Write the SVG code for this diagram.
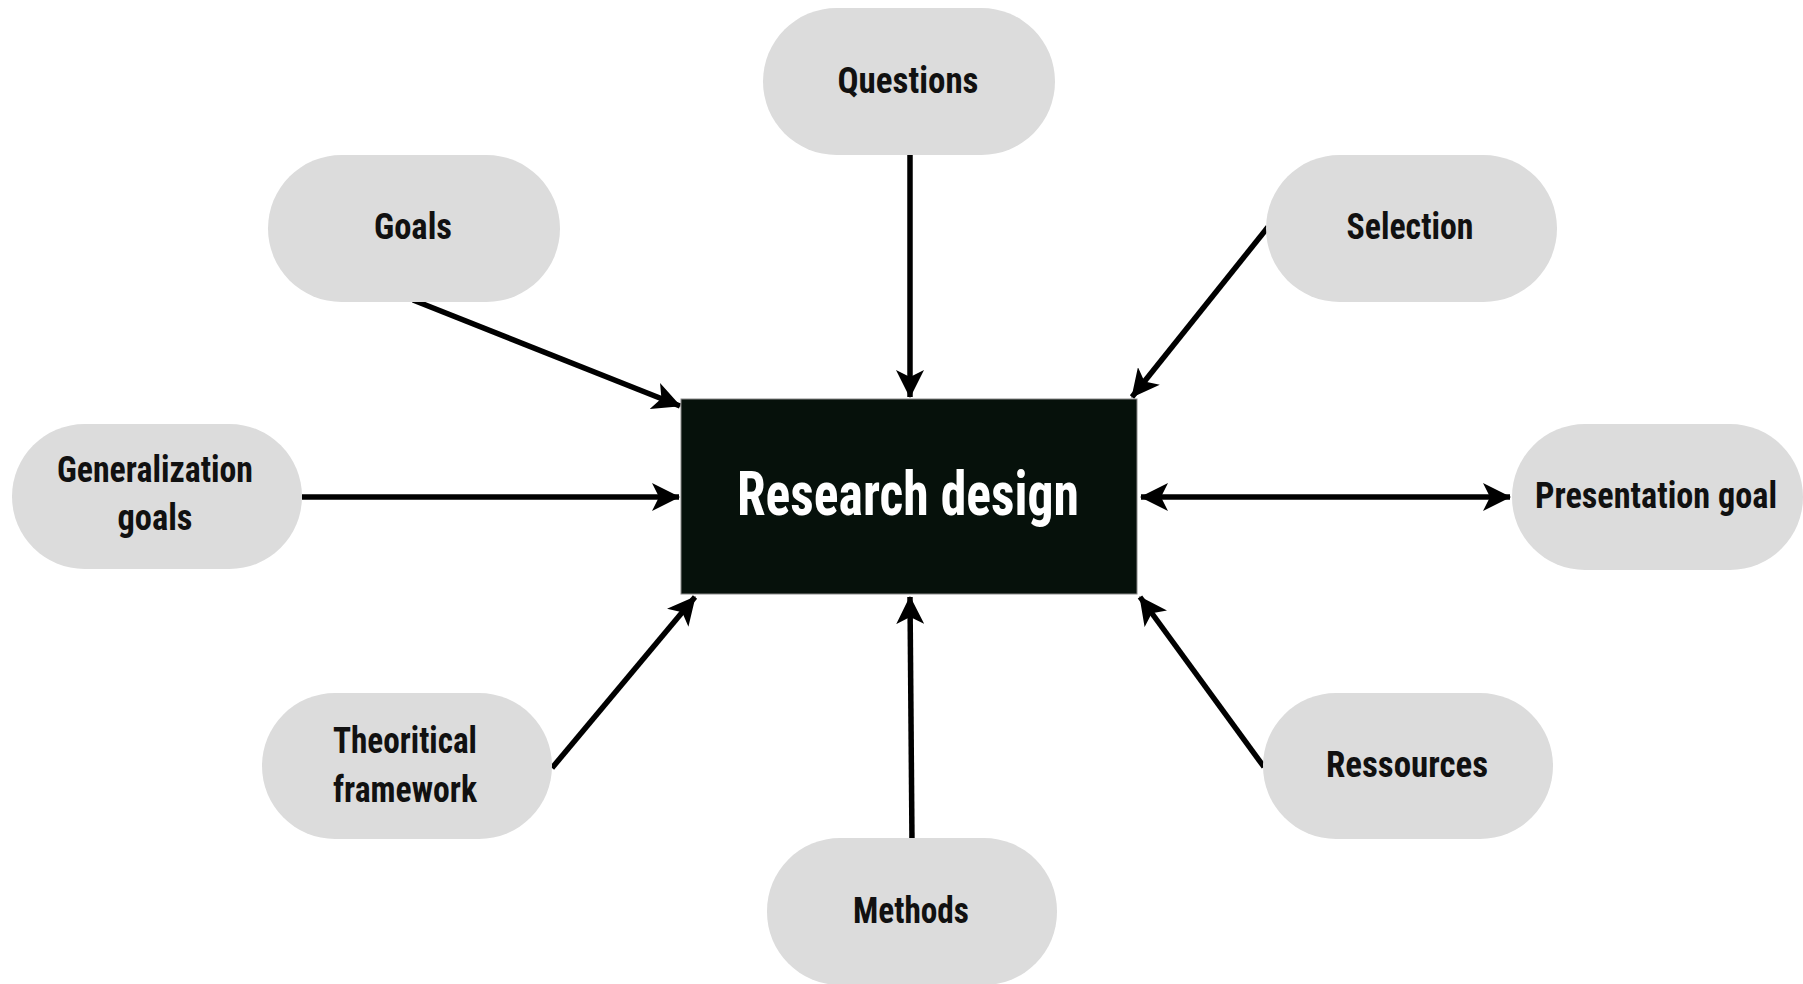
<svg xmlns="http://www.w3.org/2000/svg" width="1803" height="984" viewBox="0 0 1803 984">
<style>
.pill{fill:#dcdcdc;}
.lbl{font-family:"Roboto Condensed",Roboto,"Liberation Sans",sans-serif;font-weight:bold;font-size:37px;fill:#111;text-anchor:middle;}
.ctr{font-family:"Roboto Condensed",Roboto,"Liberation Sans",sans-serif;font-weight:bold;font-size:62px;fill:#ffffff;text-anchor:middle;}
.con{stroke:#000;stroke-width:5.5;fill:none;marker-end:url(#ah);}
</style>
<defs>
<marker id="ah" markerUnits="userSpaceOnUse" markerWidth="28" markerHeight="28" viewBox="0 0 28 28" refX="27" refY="14" orient="auto-start-reverse">
<path d="M0,0 L28,14 L0,28 L7,14 Z" fill="#000"/>
</marker>
</defs>
<rect width="1803" height="984" fill="#ffffff"/>
<g id="connectors">
<line class="con" x1="910" y1="152" x2="910" y2="397"/>
<line class="con" x1="413" y1="300" x2="680" y2="406"/>
<line class="con" x1="1268" y1="227" x2="1132" y2="397"/>
<line class="con" x1="302" y1="497" x2="679" y2="497"/>
<line class="con" x1="1141" y1="497" x2="1510" y2="497" style="marker-start:url(#ah)"/>
<line class="con" x1="552" y1="768" x2="695" y2="597"/>
<line class="con" x1="1264" y1="767" x2="1140" y2="597"/>
<line class="con" x1="912" y1="842" x2="910" y2="597"/>
</g>
<g id="research-design">
<rect x="681" y="399" width="456" height="195" fill="#06110b" stroke="#888" stroke-width="1"/>
<text class="ctr" x="908" y="515" textLength="342" lengthAdjust="spacingAndGlyphs">Research design</text>
</g>
<g id="questions">
<rect class="pill" x="763" y="8" width="292" height="147" rx="73.5"/>
<text class="lbl" x="908" y="93" textLength="141" lengthAdjust="spacingAndGlyphs">Questions</text>
</g>
<g id="goals">
<rect class="pill" x="268" y="155" width="292" height="147" rx="73.5"/>
<text class="lbl" x="413" y="239" textLength="78" lengthAdjust="spacingAndGlyphs">Goals</text>
</g>
<g id="selection">
<rect class="pill" x="1266" y="155" width="291" height="147" rx="73.5"/>
<text class="lbl" x="1410" y="239" textLength="127" lengthAdjust="spacingAndGlyphs">Selection</text>
</g>
<g id="generalization-goals">
<rect class="pill" x="12" y="424" width="290" height="145" rx="72.5"/>
<text class="lbl" x="155" y="482" textLength="196" lengthAdjust="spacingAndGlyphs">Generalization</text>
<text class="lbl" x="155" y="530" textLength="75" lengthAdjust="spacingAndGlyphs">goals</text>
</g>
<g id="presentation-goal">
<rect class="pill" x="1512" y="424" width="291" height="146" rx="73"/>
<text class="lbl" x="1656" y="508" textLength="242" lengthAdjust="spacingAndGlyphs">Presentation goal</text>
</g>
<g id="theoritical-framework">
<rect class="pill" x="262" y="693" width="290" height="146" rx="73"/>
<text class="lbl" x="405" y="753" textLength="144" lengthAdjust="spacingAndGlyphs">Theoritical</text>
<text class="lbl" x="405" y="802" textLength="144" lengthAdjust="spacingAndGlyphs">framework</text>
</g>
<g id="ressources">
<rect class="pill" x="1263" y="693" width="290" height="146" rx="73"/>
<text class="lbl" x="1407" y="777" textLength="162" lengthAdjust="spacingAndGlyphs">Ressources</text>
</g>
<g id="methods">
<rect class="pill" x="767" y="838" width="290" height="147" rx="73"/>
<text class="lbl" x="911" y="923" textLength="116" lengthAdjust="spacingAndGlyphs">Methods</text>
</g>
</svg>
